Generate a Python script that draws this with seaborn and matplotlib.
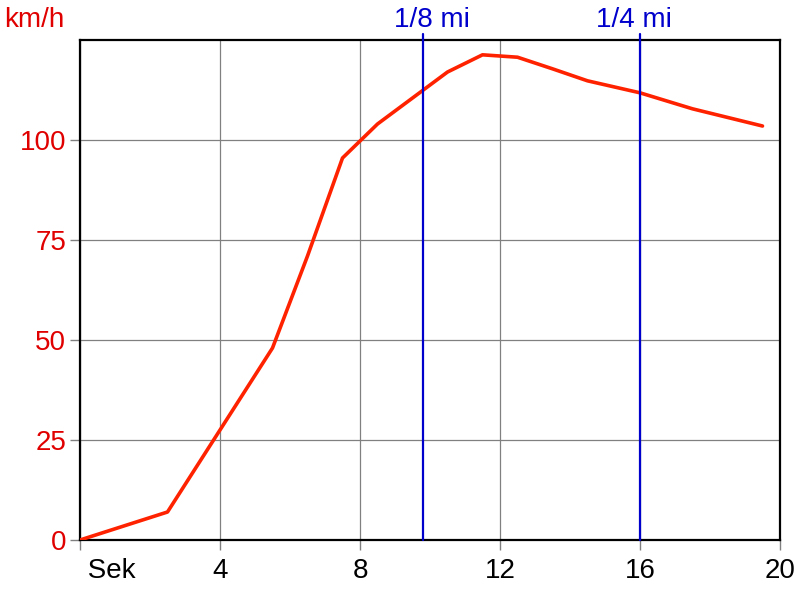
import matplotlib
matplotlib.use("Agg")
import matplotlib.pyplot as plt
import seaborn as sns
import pandas as pd

# Beschleunigung: Zeit (s) gegen Geschwindigkeit (km/h)
zeit = [0, 2.5, 5.5, 6.5, 7.5, 8.5, 9.5, 10.5, 11.5, 12.5, 13.5, 14.5, 16, 17.5, 19.5]
kmh = [0, 7, 48, 71, 95.5, 104, 110.5, 117, 121.3, 120.7, 117.8, 114.8, 111.8, 107.8, 103.5]
marken_x = [9.8, 16]
marken_txt = ["1/8 mi", "1/4 mi"]
x_ticks = [0, 4, 8, 12, 16, 20]
x_labels = [" Sek", "4", "8", "12", "16", "20"]
y_ticks = [0, 25, 50, 75, 100]

sns.set_style("white")
plt.rcParams["font.family"] = ["Liberation Sans", "DejaVu Sans"]

df = pd.DataFrame({"t": zeit, "v": kmh})

fig = plt.figure(figsize=(8, 6), dpi=100)
ax = fig.add_axes([0.1, 0.1, 0.875, 0.8333])

sns.lineplot(data=df, x="t", y="v", ax=ax, color="#ff2200", linewidth=2.6, zorder=4)

for xm, txt in zip(marken_x, marken_txt):
    ax.axvline(xm, ymin=0, ymax=1.012, color="#0000cc", linewidth=1.6, clip_on=False, zorder=5)
    fig.text(ax.transData.transform((xm, 0))[0] / 800, 0.967, txt, color="#0000cc",
             fontsize=20, ha="center", va="center")

ax.set_xlim(0, 20)
ax.set_ylim(0, 125)
ax.set_xticks(x_ticks)
ax.set_xticklabels(x_labels, fontsize=20, color="black")
ax.get_xticklabels()[0].set_ha("left")
ax.set_yticks(y_ticks)
ax.set_yticklabels([str(v) for v in y_ticks], fontsize=20, color="#e00000")
ax.tick_params(axis="both", length=7, width=1, color="#808080", direction="out")
ax.tick_params(axis="x", bottom=True, pad=6)
ax.tick_params(axis="y", left=True, pad=3)
ax.grid(True, color="#808080", linewidth=0.9)
ax.set_axisbelow(True)
ax.set_xlabel("")
ax.set_ylabel("")

for s in ax.spines.values():
    s.set_color("black")
    s.set_linewidth(1.6)

fig.text(0.005, 0.967, "km/h", color="#e00000", fontsize=20, ha="left", va="center")

fig.savefig("out.png", dpi=100)
